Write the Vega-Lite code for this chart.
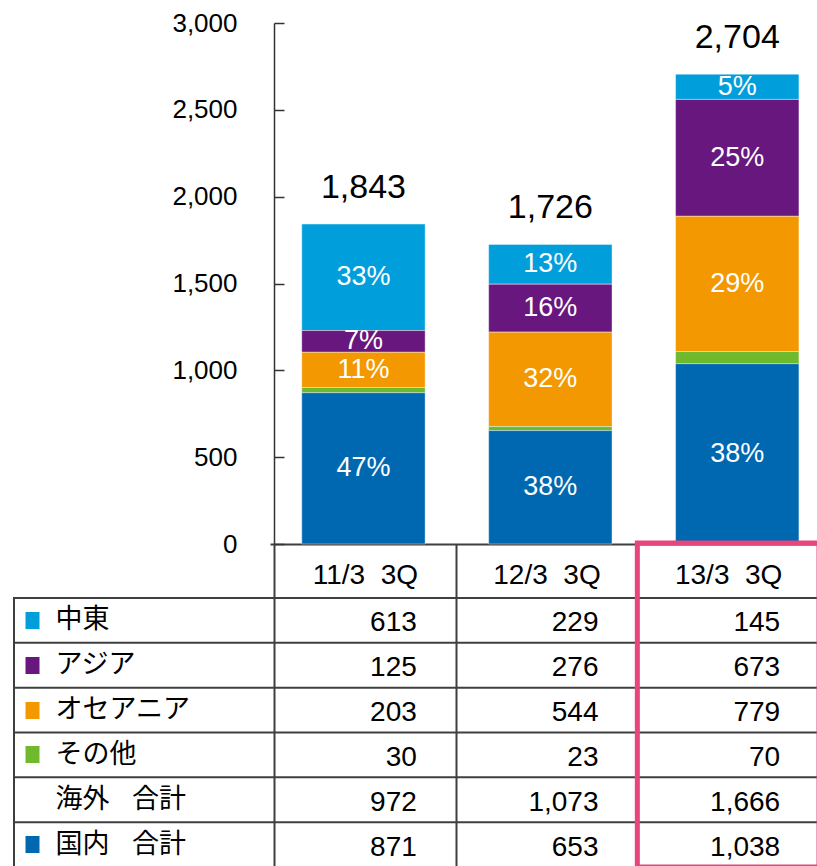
{
  "$schema": "https://vega.github.io/schema/vega-lite/v6.json",
  "background": "white",
  "padding": {"left": 12, "top": 10, "right": 0, "bottom": 0},
  "bounds": "flush",
  "spacing": 54,
  "datasets": {
    "rows": [
      {"q": "11/3\u00a0\u00a03Q", "row": "中東", "v": 613, "pct": "33%", "k": 1},
      {"q": "11/3\u00a0\u00a03Q", "row": "アジア", "v": 125, "pct": "7%", "k": 2},
      {"q": "11/3\u00a0\u00a03Q", "row": "オセアニア", "v": 203, "pct": "11%", "k": 3},
      {"q": "11/3\u00a0\u00a03Q", "row": "その他", "v": 30, "pct": "", "k": 4},
      {"q": "11/3\u00a0\u00a03Q", "row": "海外　合計", "v": 972, "pct": "", "k": 5},
      {"q": "11/3\u00a0\u00a03Q", "row": "国内　合計", "v": 871, "pct": "47%", "k": 6},
      {"q": "12/3\u00a0\u00a03Q", "row": "中東", "v": 229, "pct": "13%", "k": 1},
      {"q": "12/3\u00a0\u00a03Q", "row": "アジア", "v": 276, "pct": "16%", "k": 2},
      {"q": "12/3\u00a0\u00a03Q", "row": "オセアニア", "v": 544, "pct": "32%", "k": 3},
      {"q": "12/3\u00a0\u00a03Q", "row": "その他", "v": 23, "pct": "", "k": 4},
      {"q": "12/3\u00a0\u00a03Q", "row": "海外　合計", "v": 1073, "pct": "", "k": 5},
      {"q": "12/3\u00a0\u00a03Q", "row": "国内　合計", "v": 653, "pct": "38%", "k": 6},
      {"q": "13/3\u00a0\u00a03Q", "row": "中東", "v": 145, "pct": "5%", "k": 1},
      {"q": "13/3\u00a0\u00a03Q", "row": "アジア", "v": 673, "pct": "25%", "k": 2},
      {"q": "13/3\u00a0\u00a03Q", "row": "オセアニア", "v": 779, "pct": "29%", "k": 3},
      {"q": "13/3\u00a0\u00a03Q", "row": "その他", "v": 70, "pct": "", "k": 4},
      {"q": "13/3\u00a0\u00a03Q", "row": "海外　合計", "v": 1666, "pct": "", "k": 5},
      {"q": "13/3\u00a0\u00a03Q", "row": "国内　合計", "v": 1038, "pct": "38%", "k": 6}
    ],
    "totals": [
      {"q": "11/3\u00a0\u00a03Q", "total": 1843},
      {"q": "12/3\u00a0\u00a03Q", "total": 1726},
      {"q": "13/3\u00a0\u00a03Q", "total": 2704}
    ]
  },
  "vconcat": [
    {
      "width": 805,
      "height": 521,
      "view": {"stroke": null},
      "layer": [
        {
          "data": {"name": "rows"},
          "transform": [{"filter": "datum.row !== '海外　合計'"}],
          "mark": {"type": "bar", "stroke": "#ffffff", "strokeWidth": 0.8, "strokeOpacity": 0.5},
          "encoding": {
            "x": {
              "field": "q", "type": "nominal",
              "scale": {"domain": ["11/3\u00a0\u00a03Q", "12/3\u00a0\u00a03Q", "13/3\u00a0\u00a03Q"], "range": [256, 816.7], "paddingInner": 0.34, "paddingOuter": 0.17},
              "axis": {"orient": "bottom", "labels": false, "ticks": false, "title": null, "domainColor": "#3f3f3f", "domainWidth": 2}
            },
            "y": {
              "field": "v", "type": "quantitative", "stack": "zero",
              "scale": {"domain": [0, 3000], "nice": false},
              "axis": {
                "orient": "left", "offset": -260, "values": [0, 500, 1000, 1500, 2000, 2500, 3000],
                "format": ",d", "title": null, "grid": false,
                "labelFont": "Liberation Sans", "labelFontSize": 26, "labelColor": "#000000",
                "tickSize": -10, "tickColor": "#333333", "tickWidth": 1.5,
                "domainColor": "#333333", "domainWidth": 1.5, "labelPadding": 47
              }
            },
            "color": {
              "field": "row", "type": "nominal",
              "scale": {"domain": ["中東", "アジア", "オセアニア", "その他", "国内　合計"], "range": ["#009FDB", "#68177F", "#F39800", "#6FBA2C", "#0068B1"]},
              "legend": null
            },
            "order": {"field": "k", "type": "quantitative", "sort": "descending"}
          }
        },
        {
          "data": {"name": "rows"},
          "transform": [{"filter": "datum.row !== '海外　合計'"}],
          "mark": {"type": "text", "color": "#ffffff", "font": "Liberation Sans", "fontSize": 27, "baseline": "middle"},
          "encoding": {
            "x": {"field": "q", "type": "nominal"},
            "y": {"field": "v", "type": "quantitative", "stack": "zero", "bandPosition": 0.5},
            "detail": {"field": "row", "type": "nominal"},
            "order": {"field": "k", "type": "quantitative", "sort": "descending"},
            "text": {"field": "pct", "type": "nominal"}
          }
        },
        {
          "data": {"name": "totals"},
          "mark": {"type": "text", "color": "#000000", "font": "Liberation Sans", "fontSize": 34, "baseline": "middle", "dy": -36},
          "encoding": {
            "x": {"field": "q", "type": "nominal"},
            "y": {"field": "total", "type": "quantitative"},
            "text": {"field": "total", "type": "quantitative", "format": ","}
          }
        }
      ]
    },
    {
      "width": 805,
      "height": 269,
      "view": {"stroke": "#3f3f3f", "strokeWidth": 2},
      "data": {"name": "rows"},
      "layer": [
        {
          "transform": [{"filter": "indexof(datum.q, '11/3') === 0"}],
          "mark": {"type": "rule", "color": "#3f3f3f", "strokeWidth": 2},
          "encoding": {
            "y": {
              "field": "row", "type": "nominal", "bandPosition": 0,
              "scale": {"domain": ["中東", "アジア", "オセアニア", "その他", "海外　合計", "国内　合計"], "paddingInner": 0, "paddingOuter": 0},
              "axis": {
                "orient": "left", "offset": -25, "title": null, "domain": false, "grid": false,
                "labelAlign": "left", "labelBaseline": "middle", "labelPadding": -30,
                "labelExpr": "replace(datum.label, '　', '\u2002\u2004')",
                "labelFont": "Noto Sans CJK JP", "labelFontSize": 27, "labelColor": "#000000",
                "tickSize": 14, "tickWidth": 17,
                "tickColor": {
                  "condition": [
                    {"test": "datum.value === '中東'", "value": "#009FDB"},
                    {"test": "datum.value === 'アジア'", "value": "#68177F"},
                    {"test": "datum.value === 'オセアニア'", "value": "#F39800"},
                    {"test": "datum.value === 'その他'", "value": "#6FBA2C"},
                    {"test": "datum.value === '国内　合計'", "value": "#0068B1"}
                  ],
                  "value": "transparent"
                }
              }
            }
          }
        },
        {
          "mark": {"type": "text", "color": "#000000", "font": "Liberation Sans", "fontSize": 28, "align": "right", "baseline": "middle", "dx": 52, "dy": 3},
          "encoding": {
            "x": {
              "field": "q", "type": "nominal",
              "scale": {"domain": ["11/3\u00a0\u00a03Q", "12/3\u00a0\u00a03Q", "13/3\u00a0\u00a03Q"], "range": [260, 805], "paddingInner": 0, "paddingOuter": 0},
              "axis": {
                "orient": "top", "tickBand": "extent", "tickSize": 54, "tickColor": "#3f3f3f", "tickWidth": 2,
                "grid": true, "gridColor": "#3f3f3f", "gridWidth": 2, "gridOpacity": 1,
                "domain": false, "title": null, "labelAngle": 0,
                "labelPadding": -31, "labelBaseline": "middle",
                "labelFont": "Liberation Sans", "labelFontSize": 28, "labelColor": "#000000"
              }
            },
            "y": {"field": "row", "type": "nominal"},
            "text": {"field": "v", "type": "quantitative", "format": ","}
          }
        },
        {
          "transform": [{"filter": "indexof(datum.q, '13/3') === 0 && datum.k === 1"}],
          "mark": {"type": "rect", "fill": null, "fillOpacity": 0, "stroke": "#E6467C", "strokeWidth": 5, "yOffset": -55, "y2Offset": -4.5},
          "encoding": {
            "x": {"field": "q", "type": "nominal"}
          }
        }
      ]
    }
  ],
  "config": {
    "font": "Liberation Sans",
    "axis": {"labelFont": "Liberation Sans"}
  }
}
